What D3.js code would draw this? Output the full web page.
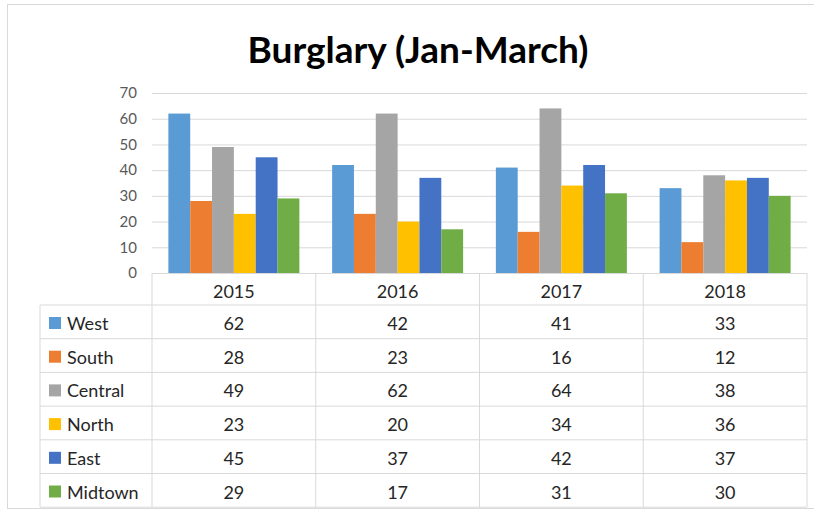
<!DOCTYPE html>
<html>
<head>
<meta charset="utf-8">
<script src="https://cdnjs.cloudflare.com/ajax/libs/d3/7.8.5/d3.min.js"></script>
<style>
  body { margin: 0; background: #fff; }
  svg { display: block; font-family: Lato, "Open Sans", sans-serif; }
</style>
</head>
<body>
<div id="chart"></div>
<script>
// data
let years = ["2015", "2016", "2017", "2018"];
let regions = ["West", "South", "Central", "North", "East", "Midtown"];
let west = [62, 42, 41, 33];
let south = [28, 23, 16, 12];
let central = [49, 62, 64, 38];
let north = [23, 20, 34, 36];
let east = [45, 37, 42, 37];
let midtown = [29, 17, 31, 30];
let yTicks = [0, 10, 20, 30, 40, 50, 60, 70];
let colors = ["#5B9BD5", "#ED7D31", "#A5A5A5", "#FFC000", "#4472C4", "#70AD47"];

let series = [west, south, central, north, east, midtown].map((v, i) => {
  return {name: regions[i], values: v, color: colors[i]};
});

let W = 814, H = 512;
let plot = {left: 152, right: 807, top: 93, bottom: 273};
let rowH = 33.7;
let headH = 32;
let legendLeft = 40;
let fs = 18;

let svg = d3.select("#chart").append("svg")
    .attr("width", W)
    .attr("height", H);

// outer frame
svg.append("rect")
    .attr("x", 7.5).attr("y", 4.5)
    .attr("width", W + 10).attr("height", 504)
    .attr("fill", "#fff")
    .attr("stroke", "#d9d9d9");

svg.append("text")
    .attr("x", 418)
    .attr("y", 63)
    .attr("text-anchor", "middle")
    .attr("font-size", 37)
    .attr("font-weight", "bold")
    .attr("fill", "#000")
    .text("Burglary (Jan-March)");

let x = d3.scaleBand()
    .domain(years)
    .range([plot.left, plot.right]);

let x1 = d3.scaleBand()
    .domain(regions)
    .range([0, x.bandwidth()])
    .paddingOuter(0.75)
    .paddingInner(0);

let y = d3.scaleLinear()
    .domain([0, 70])
    .range([plot.bottom, plot.top]);

// gridlines + y labels
let yAxis = svg.append("g")
    .attr("transform", "translate(" + plot.left + ",0)")
    .call(d3.axisLeft(y)
      .tickValues(yTicks)
      .tickSize(-(plot.right - plot.left))
      .tickPadding(15));

yAxis.select(".domain").remove();
yAxis.selectAll(".tick line").attr("stroke", "#d9d9d9");
yAxis.selectAll(".tick text")
    .attr("font-size", 15)
    .attr("fill", "#595959")
    .attr("font-family", "Lato, sans-serif");

// bars
let groups = svg.append("g").selectAll("g")
    .data(years)
    .enter().append("g")
    .attr("transform", (d) => "translate(" + x(d) + ",0)");

groups.selectAll("rect")
    .data((d, i) => series.map((s) => ({name: s.name, v: s.values[i], color: s.color})))
    .enter().append("rect")
    .attr("x", (d) => x1(d.name))
    .attr("width", x1.bandwidth())
    .attr("y", (d) => y(d.v))
    .attr("height", (d) => y(0) - y(d.v))
    .attr("fill", (d) => d.color);

// data table
let table = svg.append("g").attr("stroke", "#d9d9d9").attr("fill", "none");
let tableBottom = plot.bottom + headH + rowH * regions.length;

// horizontal lines
d3.range(regions.length + 1).forEach((i) => {
  let yy = plot.bottom + headH + rowH * i;
  table.append("line")
      .attr("x1", legendLeft).attr("x2", plot.right)
      .attr("y1", yy).attr("y2", yy);
});

// vertical lines
years.concat(["end"]).forEach((d, i) => {
  let xx = i < years.length ? x(d) : plot.right;
  table.append("line")
      .attr("x1", xx).attr("x2", xx)
      .attr("y1", plot.bottom).attr("y2", tableBottom);
});
table.append("line")
    .attr("x1", legendLeft).attr("x2", legendLeft)
    .attr("y1", plot.bottom + headH).attr("y2", tableBottom);

// header labels
svg.append("g").selectAll("text")
    .data(years)
    .enter().append("text")
    .attr("x", (d) => x(d) + x.bandwidth() / 2)
    .attr("y", plot.bottom + 25)
    .attr("text-anchor", "middle")
    .attr("font-size", fs)
    .attr("fill", "#262626")
    .text((d) => d);

let rows = svg.append("g").selectAll("g")
    .data(series)
    .enter().append("g")
    .attr("transform", (d, i) => "translate(0," + (plot.bottom + headH + rowH * i) + ")");

rows.append("rect")
    .attr("x", 49).attr("y", 12)
    .attr("width", 12).attr("height", 12)
    .attr("fill", (d) => d.color);

rows.append("text")
    .attr("x", 67)
    .attr("y", 25)
    .attr("font-size", fs)
    .attr("fill", "#262626")
    .text((d) => d.name);

rows.selectAll("text.val")
    .data((d) => d.values)
    .enter().append("text")
    .attr("class", "val")
    .attr("x", (d, i) => x(years[i]) + x.bandwidth() / 2)
    .attr("y", 25)
    .attr("text-anchor", "middle")
    .attr("font-size", fs)
    .attr("fill", "#262626")
    .text((d) => d);
</script>
</body>
</html>
